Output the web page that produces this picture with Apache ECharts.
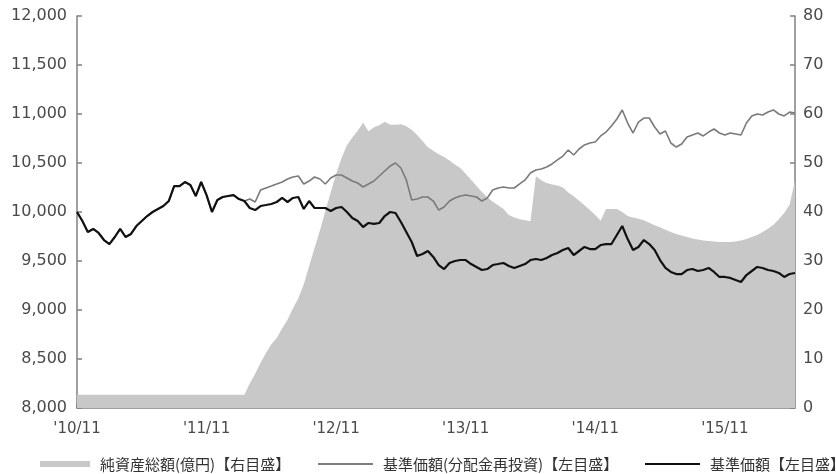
<!DOCTYPE html>
<html>
<head>
<meta charset="utf-8">
<script src="https://cdn.jsdelivr.net/npm/echarts@6/dist/echarts.min.js"></script>
<style>
html,body{margin:0;padding:0;background:#fff;}
#chart{width:836px;height:474px;}
</style>
</head>
<body>
<div id="chart"></div>
<script>
// Half-month steps starting Nov 2010; axis ticks every 24 steps (one year)
var xTickLabels = ["'10/11", "'11/11", "'12/11", "'13/11", "'14/11", "'15/11"];

// 純資産総額(億円) — right axis
var netAssets = [
  2.7,2.7,2.7,2.7,2.7,2.7,2.7,2.7,2.7,2.7,2.7,2.7,2.7,2.7,2.7,2.7,
  2.7,2.7,2.7,2.7,2.7,2.7,2.7,2.7,2.7,2.7,2.7,2.7,2.7,2.7,2.7,2.7,
  5.0,7.0,9.2,11.2,13.0,14.3,16.2,18.0,20.3,22.4,25.2,29.0,32.6,36.2,40.2,44.0,
  47.8,51.0,53.6,55.2,56.6,58.2,56.5,57.3,57.7,58.4,57.8,57.8,57.9,57.5,56.8,55.7,
  54.5,53.2,52.5,51.8,51.2,50.5,49.7,49.0,47.8,46.6,45.3,44.1,43.0,42.1,41.4,40.6,
  39.4,38.9,38.5,38.3,38.1,47.3,46.5,45.9,45.6,45.4,45.0,44.0,43.2,42.3,41.4,40.4,
  39.4,38.2,40.6,40.6,40.6,40.0,39.2,38.9,38.6,38.3,37.8,37.3,36.9,36.4,35.9,35.5,
  35.2,34.9,34.6,34.4,34.2,34.1,34.0,33.9,33.9,33.9,34.0,34.2,34.5,34.9,35.3,35.9,
  36.6,37.4,38.5,39.8,41.5,46.5
];

// 基準価額(分配金再投資) — left axis
var navReinvested = [
  10000,9908,9796,9827,9786,9714,9673,9745,9827,9745,9776,9857,9908,9959,10000,10031,
  10061,10112,10265,10265,10306,10276,10163,10306,10173,10000,10122,10153,10163,10173,10132,10112,
  10132,10102,10224,10245,10265,10286,10306,10337,10357,10367,10286,10316,10357,10337,10286,10347,
  10378,10378,10347,10316,10296,10255,10286,10316,10367,10418,10469,10500,10449,10327,10122,10132,
  10153,10153,10112,10020,10051,10112,10143,10163,10173,10163,10153,10112,10143,10224,10245,10255,
  10245,10245,10286,10327,10398,10429,10439,10459,10490,10531,10571,10633,10582,10643,10684,10704,
  10714,10776,10816,10878,10949,11041,10908,10806,10918,10959,10959,10867,10796,10827,10704,10663,
  10694,10765,10786,10806,10776,10816,10847,10806,10786,10806,10796,10786,10908,10980,11000,10990,
  11020,11041,11000,10980,11020,11010
];

// 基準価額 — left axis
var nav = [
  10000,9908,9796,9827,9786,9714,9673,9745,9827,9745,9776,9857,9908,9959,10000,10031,
  10061,10112,10265,10265,10306,10276,10163,10306,10173,10000,10122,10153,10163,10173,10132,10112,
  10041,10020,10061,10071,10082,10102,10143,10102,10143,10153,10031,10112,10041,10041,10041,10010,
  10041,10051,10000,9939,9908,9847,9888,9878,9888,9959,10000,9990,9898,9796,9694,9551,
  9571,9602,9541,9459,9418,9480,9500,9510,9510,9469,9439,9408,9418,9459,9469,9480,
  9449,9429,9449,9469,9510,9520,9510,9531,9561,9582,9612,9633,9561,9602,9643,9622,
  9622,9663,9673,9673,9765,9857,9724,9612,9643,9714,9673,9612,9510,9429,9388,9367,
  9367,9408,9418,9398,9408,9429,9388,9337,9337,9327,9306,9286,9357,9398,9439,9429,
  9408,9398,9378,9337,9367,9378
];

var seriesNames = ['純資産総額(億円)【右目盛】', '基準価額(分配金再投資)【左目盛】', '基準価額【左目盛】'];

var categories = [];
for (var i = 0; i < nav.length; i++) categories.push(String(i));

var AXIS_FONT = '"DejaVu Sans", sans-serif';
var LEGEND_FONT = '"Noto Sans CJK JP", sans-serif';
var AXIS_COLOR = '#808080';
var LABEL_COLOR = '#4a4a4a';

function isYearTick(idx) { return idx % 24 === 0; }

var chart = echarts.init(document.getElementById('chart'), null, {renderer: 'canvas'});

function legendAt(left, name, color, h, w) {
  return {
    left: left, top: 451, orient: 'horizontal',
    itemWidth: w, itemHeight: h, itemGap: 0,
    icon: 'rect',
    selectedMode: false,
    textStyle: {fontFamily: LEGEND_FONT, fontSize: 15, color: '#333', padding: [0, 0, 0, 5], lineHeight: 16},
    data: [{name: name, icon: 'rect', itemStyle: {color: color, borderWidth: 0}}]
  };
}

chart.setOption({
  animation: false,
  backgroundColor: '#fff',
  grid: {left: 77, right: 41, top: 16, bottom: 66, containLabel: false},
  legend: [
    legendAt(35, seriesNames[0], '#c8c8c8', 6, 50),
    legendAt(313, seriesNames[1], '#808080', 2, 55),
    legendAt(640, seriesNames[2], '#111', 2, 55)
  ],
  xAxis: {
    type: 'category',
    data: categories,
    boundaryGap: false,
    axisLine: {lineStyle: {color: AXIS_COLOR, width: 1.5}},
    axisTick: {inside: true, length: 5, interval: function (idx) { return isYearTick(idx); }, lineStyle: {color: AXIS_COLOR, width: 1.5}},
    axisLabel: {
      interval: function (idx) { return isYearTick(idx); },
      margin: 14,
      color: LABEL_COLOR, fontFamily: AXIS_FONT, fontSize: 15,
      formatter: function (v, idx) { return xTickLabels[idx / 24] || ''; }
    },
    splitLine: {show: false}
  },
  yAxis: [
    {
      type: 'value', min: 8000, max: 12000, interval: 500, position: 'left',
      axisLine: {show: true, lineStyle: {color: AXIS_COLOR, width: 1.5}},
      axisTick: {show: true, inside: true, length: 5, lineStyle: {color: AXIS_COLOR, width: 1.5}},
      axisLabel: {
        margin: 10, color: LABEL_COLOR, fontFamily: AXIS_FONT, fontSize: 16,
        formatter: function (v) { return v.toLocaleString('en-US'); }
      },
      splitLine: {show: false}
    },
    {
      type: 'value', min: 0, max: 80, interval: 10, position: 'right',
      axisLine: {show: true, lineStyle: {color: AXIS_COLOR, width: 1.5}},
      axisTick: {show: true, inside: true, length: 5, lineStyle: {color: AXIS_COLOR, width: 1.5}},
      axisLabel: {margin: 8, color: LABEL_COLOR, fontFamily: AXIS_FONT, fontSize: 16},
      splitLine: {show: false}
    }
  ],
  series: [
    {
      name: seriesNames[0], type: 'line', yAxisIndex: 1, data: netAssets,
      showSymbol: false, symbol: 'none', z: 1,
      lineStyle: {width: 0, color: '#c8c8c8'},
      itemStyle: {color: '#c8c8c8'},
      areaStyle: {color: '#c8c8c8', opacity: 1}
    },
    {
      name: seriesNames[1], type: 'line', yAxisIndex: 0, data: navReinvested,
      showSymbol: false, symbol: 'none', z: 2,
      lineStyle: {width: 1.6, color: '#7a7a7a'},
      itemStyle: {color: '#808080'}
    },
    {
      name: seriesNames[2], type: 'line', yAxisIndex: 0, data: nav,
      showSymbol: false, symbol: 'none', z: 3,
      lineStyle: {width: 2.2, color: '#111'},
      itemStyle: {color: '#111'}
    }
  ]
});
</script>
</body>
</html>
